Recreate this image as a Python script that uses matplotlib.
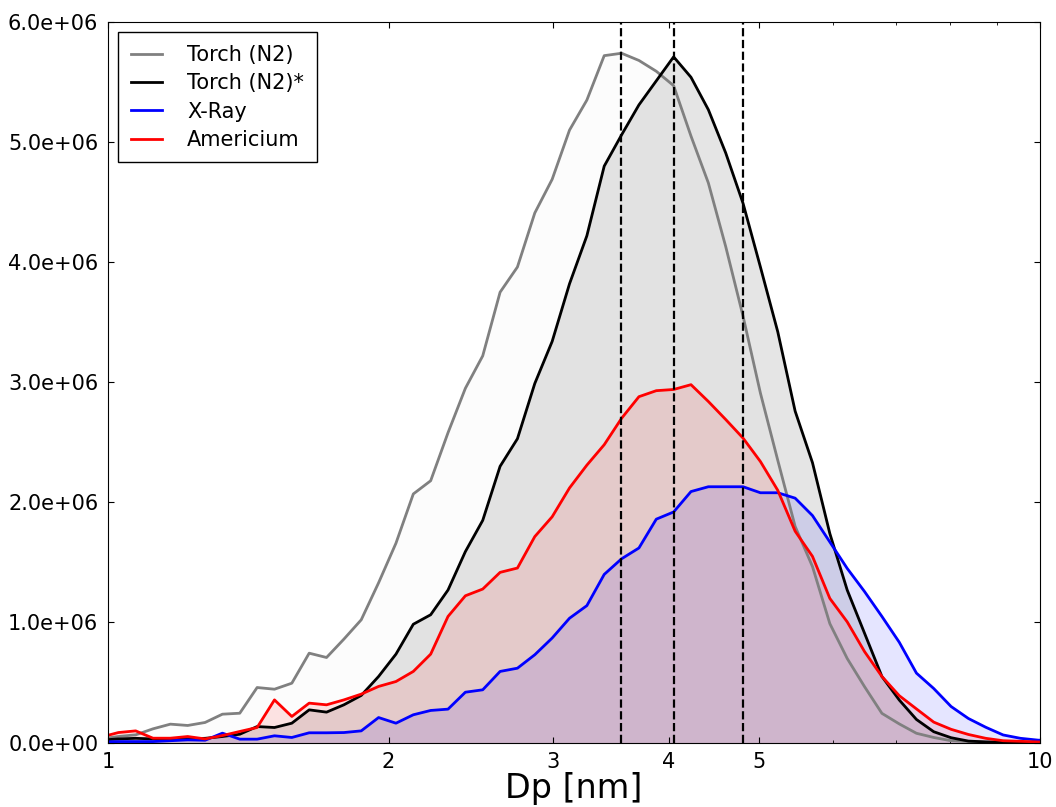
import numpy as np
import matplotlib
matplotlib.use("Agg")
import matplotlib.pyplot as plt
from matplotlib.ticker import FixedLocator, FixedFormatter, NullFormatter, FormatStrFormatter, LogLocator

plt.rcParams['font.family'] = ['DejaVu Sans']
plt.rcParams['xtick.direction'] = 'in'
plt.rcParams['ytick.direction'] = 'in'
plt.rcParams['xtick.top'] = True
plt.rcParams['ytick.right'] = True
plt.rcParams['xtick.major.size'] = 4
plt.rcParams['ytick.major.size'] = 4
plt.rcParams['xtick.minor.size'] = 2
plt.rcParams['ytick.minor.size'] = 2

# particle diameter bins [nm]
dp = [0.9827, 1.0258, 1.0707, 1.1175, 1.1665, 1.2176, 1.2710, 1.3266, 1.3847, 1.4454,
      1.5087, 1.5748, 1.6438, 1.7158, 1.7910, 1.8694, 1.9513, 2.0369, 2.1261, 2.2193,
      2.3165, 2.4180, 2.5239, 2.6345, 2.7499, 2.8704, 2.9962, 3.1275, 3.2645, 3.4075,
      3.5568, 3.7127, 3.8753, 4.0451, 4.2224, 4.4074, 4.6005, 4.8020, 5.0124, 5.2321,
      5.4613, 5.7006, 5.9504, 6.2110, 6.4832, 6.7672, 7.0637, 7.3700, 7.6913, 8.0283,
      8.3800, 8.7472, 9.1305, 9.5304, 9.9472, 10.383]

# dN/dlogDp, in thousands
torch_n2 = [30, 50, 64, 114, 153, 142, 167, 236, 244, 458,
            444, 494, 744, 708, 861, 1022, 1330, 1660, 2070, 2180,
            2580, 2950, 3220, 3750, 3960, 4410, 4690, 5100, 5350, 5720,
            5740, 5680, 5590, 5470, 5050, 4660, 4130, 3550, 2910, 2350,
            1800, 1465, 990, 700, 465, 243, 155, 77, 42, 15,
            8, 4, 2, 1, 0, 0]
torch_n2_star = [20, 30, 35, 30, 25, 30, 35, 50, 69, 133,
                 125, 161, 272, 253, 314, 392, 550, 736, 985, 1064,
                 1270, 1590, 1850, 2300, 2530, 2990, 3340, 3820, 4220, 4800,
                 5060, 5310, 5510, 5710, 5540, 5270, 4910, 4490, 3960, 3420,
                 2760, 2330, 1740, 1270, 910, 550, 354, 192, 90, 40,
                 12, 5, 2, 1, 0, 0]
xray = [5, 8, 8, 8, 15, 22, 19, 78, 28, 28,
        56, 42, 81, 81, 83, 97, 208, 161, 231, 267,
        278, 419, 439, 592, 619, 731, 870, 1035, 1140, 1400,
        1530, 1620, 1860, 1920, 2090, 2130, 2130, 2130, 2080, 2080,
        2035, 1890, 1670, 1450, 1257, 1050, 835, 578, 450, 300,
        200, 127, 63, 35, 20, 12]
americium = [45, 83, 97, 36, 36, 50, 30, 58, 92, 125,
             355, 217, 328, 314, 355, 403, 467, 508, 592, 736,
             1050, 1222, 1278, 1417, 1453, 1715, 1880, 2120, 2310, 2480,
             2700, 2880, 2930, 2940, 2980, 2840, 2690, 2535, 2340, 2100,
             1760, 1550, 1200, 1005, 757, 550, 390, 280, 170, 110,
             67, 35, 15, 10, 5, 3]

labels = ['Torch (N2)', 'Torch (N2)*', 'X-Ray', 'Americium']
colors = ['gray', 'black', 'blue', 'red']
fill_alpha = [0.025, 0.1, 0.1, 0.1]
modes = [3.55, 4.05, 4.80]

x = np.array(dp)
series = [torch_n2, torch_n2_star, xray, americium]

fig = plt.figure(figsize=(10.56, 8.07), dpi=100)
ax = fig.add_axes([0.1023, 0.0799, 0.8825, 0.8928])

for s, lab, c, a in zip(series, labels, colors, fill_alpha):
    y = np.array(s) * 1e3
    ax.plot(x, y, color=c, lw=2, label=lab)
    ax.fill_between(x, y, 0, color=c, alpha=a, lw=0)

for m in modes:
    ax.axvline(m, color='k', ls='--', lw=1.6)

ax.set_xscale('log')
ax.set_xlim(1, 10)
ax.set_ylim(0, 6e6)
ax.xaxis.set_major_locator(FixedLocator([1, 2, 3, 4, 5, 10]))
ax.xaxis.set_major_formatter(FixedFormatter(['1', '2', '3', '4', '5', '10']))
ax.xaxis.set_minor_locator(LogLocator(base=10, subs=np.arange(2, 10)))
ax.xaxis.set_minor_formatter(NullFormatter())
ax.yaxis.set_major_formatter(FormatStrFormatter('%.1e'))
ax.tick_params(labelsize=15, pad=7)
ax.set_xlabel('Dp [nm]', fontsize=24, labelpad=0)

leg = ax.legend(loc='upper left', fontsize=15, fancybox=False, framealpha=1,
                edgecolor='black', handlelength=1.5, labelspacing=0.4,
                borderpad=0.6, handletextpad=1.2)
leg.get_frame().set_linewidth(1.0)

fig.savefig('out.png', dpi=100, facecolor='white')
